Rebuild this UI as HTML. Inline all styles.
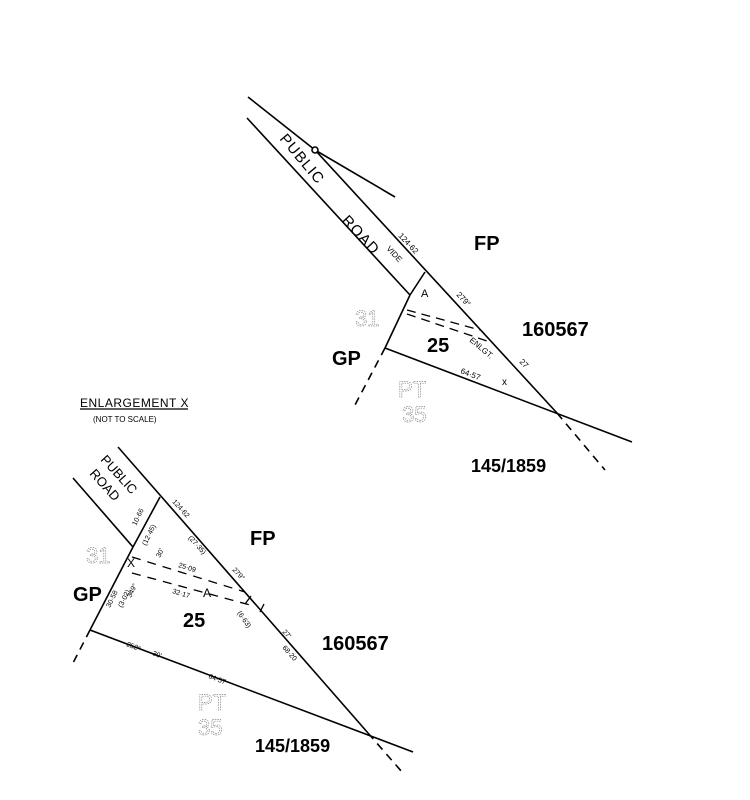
<!DOCTYPE html>
<html><head><meta charset="utf-8"><style>
html,body{margin:0;padding:0;background:#fff;}
svg{display:block;}
.b{font-family:"Liberation Sans",sans-serif;font-weight:bold;fill:#000;}
.s{font-family:"Liberation Sans",sans-serif;fill:#000;}
.g{font-family:"Liberation Sans",sans-serif;fill:none;stroke:#888;stroke-width:0.7;stroke-dasharray:1.5 1;}
</style></head><body>
<svg width="750" height="800" viewBox="0 0 750 800" xmlns="http://www.w3.org/2000/svg">
<g stroke="#000" stroke-width="1.6" fill="none">
<!-- top diagram -->
<polyline points="248,97 315,150 557,413"/>
<line x1="557" y1="413" x2="605" y2="470" stroke-dasharray="8 6"/>
<line x1="247" y1="118" x2="410" y2="295"/>
<line x1="425" y1="272" x2="410" y2="295"/>
<line x1="410" y1="295" x2="385" y2="348"/>
<line x1="385" y1="348" x2="355" y2="405" stroke-dasharray="8 6"/>
<line x1="385" y1="348" x2="632" y2="442"/>
<line x1="315" y1="150" x2="395" y2="197"/>
<circle cx="315" cy="150" r="3" fill="#fff"/>
<line x1="407" y1="310" x2="480" y2="330" stroke-dasharray="9 6" stroke-width="1.3"/>
<line x1="407" y1="314" x2="493" y2="343" stroke-dasharray="9 6" stroke-width="1.3"/>
<!-- bottom diagram -->
<line x1="118" y1="447" x2="368" y2="733"/>
<line x1="368" y1="733" x2="402" y2="772" stroke-dasharray="8 6"/>
<line x1="73" y1="478" x2="133" y2="547"/>
<line x1="160" y1="497" x2="133" y2="547"/>
<line x1="133" y1="547" x2="90" y2="630"/>
<line x1="90" y1="630" x2="72" y2="665" stroke-dasharray="8 6"/>
<line x1="90" y1="630" x2="413" y2="752"/>
<line x1="132" y1="557" x2="245" y2="592" stroke-dasharray="9 7" stroke-width="1.3"/>
<line x1="132" y1="573" x2="250" y2="605" stroke-dasharray="9 7" stroke-width="1.3"/>
<line x1="245" y1="604" x2="251" y2="596" stroke-width="1.3"/>
<line x1="260" y1="612" x2="264" y2="604" stroke-width="1.3"/>
<line x1="80" y1="409" x2="188" y2="409" stroke-width="1.2"/>
</g>
<!-- top labels -->
<text class="s" font-size="15" transform="translate(279,139) rotate(50)" letter-spacing="1">PUBLIC</text>
<text class="s" font-size="15" transform="translate(341,221) rotate(47)" letter-spacing="1">ROAD</text>
<text class="s" font-size="8" transform="translate(386,249) rotate(47)">VIDE</text>
<text class="s" font-size="8" transform="translate(398,236) rotate(47)">124·62</text>
<text class="s" font-size="8" transform="translate(456,295) rotate(47)">279°</text>
<text class="s" font-size="8" transform="translate(519,362) rotate(47)">27</text>
<text class="s" font-size="8" transform="translate(469,341) rotate(40)">ENLGT.</text>
<text class="s" font-size="10" x="502" y="385">x</text>
<text class="s" font-size="8" transform="translate(460,373) rotate(21)">64·57</text>
<text class="s" font-size="11" x="421" y="297">A</text>
<text class="b" font-size="20" x="474" y="250">FP</text>
<text class="b" font-size="20" x="522" y="336">160567</text>
<text class="b" font-size="20" x="427" y="352">25</text>
<text class="b" font-size="20" x="332" y="365">GP</text>
<text class="b" font-size="18" x="471" y="472">145/1859</text>
<text class="g" font-size="22" x="355" y="326">31</text>
<text class="g" font-size="22" x="398" y="397">PT</text>
<text class="g" font-size="22" x="402" y="422">35</text>
<!-- bottom labels -->
<text class="s" font-size="12" x="80" y="407" letter-spacing="0.5">ENLARGEMENT X</text>
<text class="s" font-size="8" x="93" y="422">(NOT TO SCALE)</text>
<text class="s" font-size="13" transform="translate(100,460) rotate(48)">PUBLIC</text>
<text class="s" font-size="13" transform="translate(89,474) rotate(48)">ROAD</text>
<text class="s" font-size="7" transform="translate(172,502) rotate(48)">124·62</text>
<text class="s" font-size="7" transform="translate(188,538) rotate(48)">(27·35)</text>
<text class="s" font-size="7" transform="translate(232,570) rotate(48)">279°</text>
<text class="s" font-size="7" transform="translate(282,632) rotate(48)">27'</text>
<text class="s" font-size="7" transform="translate(282,648) rotate(48)">68·20</text>
<text class="s" font-size="7" transform="translate(237,613) rotate(55)">(6·63)</text>
<text class="s" font-size="7" transform="translate(136,526) rotate(-64)">10·66</text>
<text class="s" font-size="7" transform="translate(146,546) rotate(-64)">(12·45)</text>
<text class="s" font-size="7" transform="translate(160,558) rotate(-64)">30'</text>
<text class="s" font-size="7" transform="translate(110,608) rotate(-64)">30·58</text>
<text class="s" font-size="7" transform="translate(122,608) rotate(-64)">(3·02)</text>
<text class="s" font-size="7" transform="translate(131,598) rotate(-64)">349°</text>
<text class="s" font-size="7" transform="translate(178,567) rotate(17)">25·09</text>
<text class="s" font-size="7" transform="translate(172,593) rotate(17)">32·17</text>
<text class="s" font-size="12" x="127" y="567">X</text>
<text class="s" font-size="12" x="203" y="597">A</text>
<text class="s" font-size="7" transform="translate(126,646) rotate(21)">252°</text>
<text class="s" font-size="7" transform="translate(152,655) rotate(21)">30'</text>
<text class="s" font-size="7" transform="translate(208,678) rotate(21)">64·57</text>
<text class="b" font-size="20" x="250" y="545">FP</text>
<text class="b" font-size="20" x="322" y="650">160567</text>
<text class="b" font-size="20" x="183" y="627">25</text>
<text class="b" font-size="20" x="73" y="601">GP</text>
<text class="b" font-size="18" x="255" y="752">145/1859</text>
<text class="g" font-size="22" x="86" y="563">31</text>
<text class="g" font-size="22" x="198" y="710">PT</text>
<text class="g" font-size="22" x="198" y="735">35</text>
</svg>
</body></html>
